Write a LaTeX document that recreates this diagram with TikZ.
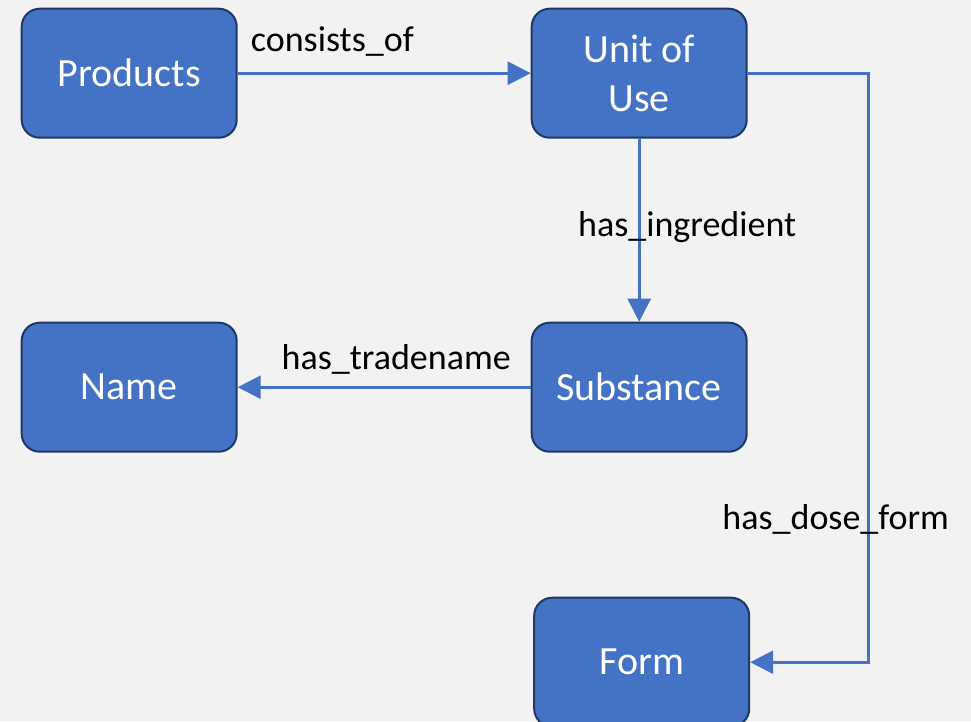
\documentclass[tikz,border=0pt]{standalone}
\usepackage{fontspec}
\setmainfont{Carlito}
\usepackage{tikz}
\usetikzlibrary{
  arrows.meta,
  matrix,
  positioning
}
\definecolor{backfill}{HTML}{F2F2F2}
\definecolor{entityfill}{HTML}{4472C4}
\definecolor{entityborder}{HTML}{1F3864}
\definecolor{relline}{HTML}{4472C4}

\begin{document}
\begin{tikzpicture}[
      x=1pt,y=-1pt,
      entity/.style={
         rectangle,
         rounded corners=18pt,
         minimum width=215pt,
         minimum height=129pt,
         line width=2pt,
         draw=entityborder,
         fill=entityfill,
         text=white,
         align=center,
         font=\fontsize{40}{49}\selectfont
      },
      relation/.style={
         anchor=base,
         inner sep=0pt,
         text=black,
         font=\fontsize{36}{43}\selectfont
      },
      >={Triangle[length=23pt,width=23pt]},
      tip/.style={->,line width=2.6pt,draw=relline}
    ]
    \fill[backfill] (0,0) rectangle (971,721);
    \useasboundingbox (0,0) rectangle (971,721);
    \matrix[column sep=293pt, row sep=183pt, inner sep=0pt, anchor=north west] at (20.5,7.5) {
\node (prod) [entity] {Products}; & \node (unit) [entity] {Unit of\\Use};\\
\node (name) [entity] {Name}; & \node (subst) [entity] {Substance};\\[-39pt]
 & \node (form) [entity, xshift=2.5pt] {Form};\\
    };
  \draw[tip] (prod) -- node[relation, pos=0.323, yshift=21.5pt] {consists\_of} (unit);
  \draw[tip] (unit) -- node[relation, pos=0.533, xshift=48pt] {has\_ingredient} (subst);
  \draw[tip] (subst) -- node[relation, pos=0.459, yshift=18pt] {has\_tradename} (name);
  \draw[tip] (unit.east) -- ++(121,0) |- node[relation, pos=0.387, xshift=-33pt] {has\_dose\_form} (form.east);
\end{tikzpicture}
\end{document}
